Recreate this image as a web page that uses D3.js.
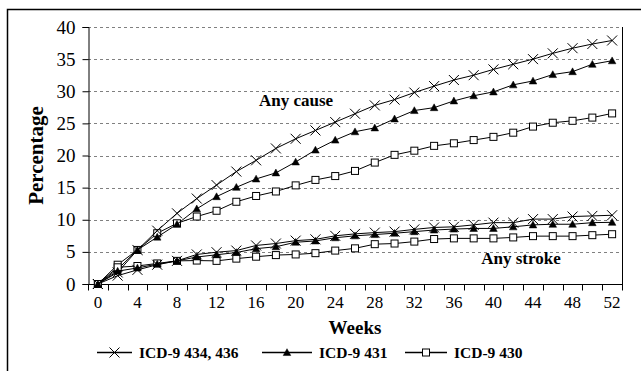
<!DOCTYPE html>
<html>
<head>
<meta charset="utf-8">
<script src="https://cdnjs.cloudflare.com/ajax/libs/d3/7.8.5/d3.min.js"></script>
<style>
  html, body { margin: 0; padding: 0; background: #fff; }
  svg { display: block; }
  text { font-family: "Liberation Serif", "Times New Roman", serif; fill: #000; }
</style>
</head>
<body>
<div id="chart"></div>
<script>
const weeks = [0, 2, 4, 6, 8, 10, 12, 14, 16, 18, 20, 22, 24, 26, 28, 30, 32, 34, 36, 38, 40, 42, 44, 46, 48, 50, 52];

// any cause
const causeX = [0, 1.8, 5.3, 8.3, 11.0, 13.3, 15.4, 17.5, 19.25, 21.1, 22.6, 23.9, 25.2, 26.5, 27.8, 28.7, 29.8, 30.8, 31.75, 32.5, 33.4, 34.2, 35.0, 35.9, 36.7, 37.35, 37.9];
const causeTri = [0, 2.3, 5.3, 7.3, 9.3, 11.7, 13.6, 15.05, 16.35, 17.3, 19.0, 20.85, 22.4, 23.7, 24.3, 25.7, 27.0, 27.45, 28.5, 29.3, 29.9, 31.0, 31.6, 32.6, 33.05, 34.2, 34.75];
const causeSq = [0, 3.0, 5.3, 7.9, 9.45, 10.5, 11.4, 12.8, 13.7, 14.4, 15.35, 16.2, 16.8, 17.6, 18.9, 20.1, 20.75, 21.5, 21.9, 22.4, 22.9, 23.55, 24.5, 25.1, 25.4, 25.9, 26.55];

// any stroke
const strokeX = [0, 1.3, 2.2, 3.0, 3.6, 4.6, 4.95, 5.2, 6.0, 6.3, 6.75, 6.95, 7.5, 7.8, 8.0, 8.15, 8.5, 8.8, 8.9, 9.2, 9.55, 9.55, 10.1, 10.1, 10.5, 10.6, 10.7];
const strokeTri = [0, 2.0, 2.5, 3.1, 3.6, 4.2, 4.55, 4.9, 5.5, 5.8, 6.5, 6.7, 7.2, 7.5, 7.7, 7.9, 8.15, 8.4, 8.55, 8.65, 8.65, 8.9, 9.2, 9.3, 9.3, 9.55, 9.6];
const strokeSq = [0, 2.6, 2.8, 3.2, 3.6, 3.65, 3.6, 3.95, 4.25, 4.5, 4.6, 4.8, 5.2, 5.55, 6.2, 6.3, 6.6, 7.0, 7.1, 7.1, 7.1, 7.25, 7.45, 7.45, 7.45, 7.6, 7.75];

const yTicks = [0, 5, 10, 15, 20, 25, 30, 35, 40];
const legendLabels = ['ICD-9 434, 436', 'ICD-9 431', 'ICD-9 430'];

const width = 641, height = 371;
const plot = { left: 88, right: 622, top: 27, bottom: 284 };

const svg = d3.select('#chart').append('svg').attr('width', width).attr('height', height);

// outer chart frame
svg.append('rect')
  .attr('x', 7.5).attr('y', 9.5)
  .attr('width', 645).attr('height', 375)
  .attr('fill', 'none').attr('stroke', '#000').attr('stroke-width', 1.5);

const x = d3.scaleBand().domain(weeks).range([plot.left, plot.right]).padding(0);
const y = d3.scaleLinear().domain([0, 40]).range([plot.bottom, plot.top]);
const cx = d => x(d) + x.bandwidth() / 2;

// gridlines
svg.append('g')
  .selectAll('line')
  .data(yTicks.filter(t => t > 0))
  .enter()
  .append('line')
  .attr('x1', plot.left).attr('x2', plot.right)
  .attr('y1', d => Math.round(y(d)) + 0.5).attr('y2', d => Math.round(y(d)) + 0.5)
  .style('stroke', '#808080')
  .style('stroke-width', 1)
  .style('stroke-dasharray', '3,3');

// right border of plot area
svg.append('line')
  .attr('x1', plot.right + 0.5).attr('x2', plot.right + 0.5)
  .attr('y1', plot.top).attr('y2', plot.bottom)
  .style('stroke', '#000');

// y axis
const yAxis = svg.append('g')
  .attr('transform', `translate(${plot.left + 0.5},0)`)
  .call(d3.axisLeft(y).tickValues(yTicks).tickSize(6).tickPadding(7));
yAxis.select('.domain').attr('stroke', '#000');
yAxis.selectAll('text').style('font-size', '19px').style('font-family', '"Liberation Serif", serif');

// x axis: ticks between categories, labels every other category
const xAxisG = svg.append('g').attr('transform', `translate(0,${plot.bottom + 0.5})`);
xAxisG.append('line')
  .attr('x1', plot.left).attr('x2', plot.right + 1)
  .style('stroke', '#000');
xAxisG.selectAll('line.tick')
  .data(weeks.concat(['end']))
  .enter()
  .append('line')
  .attr('class', 'tick')
  .attr('x1', d => Math.round(d === 'end' ? plot.right : x(d)) + 0.5)
  .attr('x2', d => Math.round(d === 'end' ? plot.right : x(d)) + 0.5)
  .attr('y1', 0).attr('y2', 6)
  .style('stroke', '#000');
xAxisG.selectAll('text')
  .data(weeks.filter((d, i) => i % 2 === 0))
  .enter()
  .append('text')
  .attr('x', d => cx(d))
  .attr('y', 23)
  .attr('text-anchor', 'middle')
  .style('font-size', '17px')
  .text(d => d);

// axis titles
svg.append('text')
  .attr('transform', `translate(43,${(plot.top + plot.bottom) / 2}) rotate(-90)`)
  .attr('text-anchor', 'middle')
  .style('font-size', '21px').style('font-weight', 'bold')
  .text('Percentage');

svg.append('text')
  .attr('x', (plot.left + plot.right) / 2).attr('y', 334)
  .attr('text-anchor', 'middle')
  .style('font-size', '19px').style('font-weight', 'bold')
  .text('Weeks');

// marker painters
function drawMarker(g, type, px, py) {
  if (type === 'x') {
    const s = 5;
    g.append('path')
      .attr('d', `M${px - s},${py - s}L${px + s},${py + s}M${px - s},${py + s}L${px + s},${py - s}`)
      .style('stroke', '#000').style('stroke-width', 1).style('fill', 'none');
  } else if (type === 'tri') {
    const s = 3.8;
    g.append('path')
      .attr('d', `M${px},${py - s}L${px + s},${py + s * 0.8}L${px - s},${py + s * 0.8}Z`)
      .style('fill', '#000').style('stroke', '#000').style('stroke-width', 0.5);
  } else {
    const s = 3.5;
    g.append('rect')
      .attr('x', px - s).attr('y', py - s).attr('width', 2 * s).attr('height', 2 * s)
      .style('fill', '#fff').style('stroke', '#000').style('stroke-width', 1);
  }
}

const series = [
  { values: causeSq, type: 'sq' },
  { values: causeTri, type: 'tri' },
  { values: causeX, type: 'x' },
  { values: strokeSq, type: 'sq' },
  { values: strokeTri, type: 'tri' },
  { values: strokeX, type: 'x' },
];

const line = d3.line().x((d, i) => cx(weeks[i])).y(d => y(d));

series.forEach(s => {
  const g = svg.append('g');
  g.append('path')
    .datum(s.values)
    .attr('d', line)
    .style('fill', 'none').style('stroke', '#000').style('stroke-width', 1);
  s.values.forEach((v, i) => drawMarker(g, s.type, cx(weeks[i]), y(v)));
});

// annotations
svg.append('text')
  .attr('x', 296).attr('y', 106)
  .attr('text-anchor', 'middle')
  .style('font-size', '17px').style('font-weight', 'bold')
  .text('Any cause');

svg.append('text')
  .attr('x', 521).attr('y', 264)
  .attr('text-anchor', 'middle')
  .style('font-size', '17px').style('font-weight', 'bold')
  .text('Any stroke');

// legend
const legendItems = [
  { label: legendLabels[0], type: 'x', x0: 97, x1: 132 },
  { label: legendLabels[1], type: 'tri', x0: 262, x1: 312 },
  { label: legendLabels[2], type: 'sq', x0: 405, x1: 447 },
];
const ly = 352;
const legend = svg.append('g');
legendItems.forEach(it => {
  legend.append('line')
    .attr('x1', it.x0).attr('x2', it.x1)
    .attr('y1', ly + 0.5).attr('y2', ly + 0.5)
    .style('stroke', '#000').style('stroke-width', 1.5);
  drawMarker(legend, it.type, (it.x0 + it.x1) / 2, ly + 0.5);
  legend.append('text')
    .attr('x', it.x1 + 7).attr('y', ly + 5.5)
    .style('font-size', '15.5px').style('font-weight', 'bold')
    .text(it.label);
});
</script>
</body>
</html>
